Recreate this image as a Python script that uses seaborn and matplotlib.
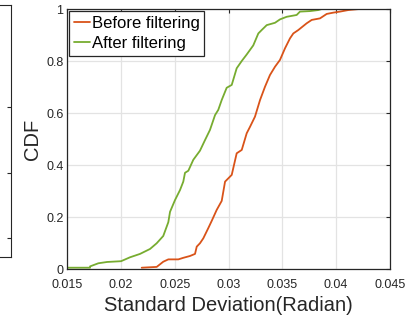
import matplotlib
matplotlib.use("Agg")
import matplotlib.pyplot as plt
import seaborn as sns
import pandas as pd

# ---- data ----
after_x = [0.0150, 0.01714, 0.01714, 0.01791, 0.01872, 0.02002, 0.02085, 0.02178,
           0.02271, 0.02333, 0.02394, 0.02441, 0.02457, 0.02503, 0.0255, 0.0258,
           0.02596, 0.02627, 0.02673, 0.02735, 0.02782, 0.02828, 0.02875, 0.02905,
           0.02937, 0.02983, 0.0303, 0.03076, 0.03123, 0.03169, 0.0323, 0.03277,
           0.03308, 0.03355, 0.03432, 0.03478, 0.0354, 0.03633, 0.03664, 0.03757,
           0.03834, 0.03866]
after_cdf = [0.005, 0.005, 0.010, 0.022, 0.027, 0.030, 0.045, 0.058,
             0.077, 0.099, 0.127, 0.180, 0.220, 0.265, 0.304, 0.336,
             0.370, 0.378, 0.420, 0.455, 0.496, 0.535, 0.592, 0.612,
             0.650, 0.697, 0.708, 0.772, 0.800, 0.825, 0.860, 0.906,
             0.919, 0.938, 0.947, 0.960, 0.970, 0.977, 0.990, 0.992,
             0.996, 1.000]

before_x = [0.02194, 0.02333, 0.02394, 0.02441, 0.02534, 0.0258, 0.02642, 0.02689,
            0.02705, 0.02735, 0.02766, 0.02812, 0.02844, 0.0289, 0.02937, 0.02968,
            0.0303, 0.03076, 0.03123, 0.03169, 0.0320, 0.03246, 0.03293, 0.03339,
            0.03385, 0.03432, 0.03478, 0.03525, 0.03571, 0.03602, 0.03648, 0.03726,
            0.03773, 0.0385, 0.03912, 0.03973, 0.04036, 0.04113, 0.04215]
before_cdf = [0.005, 0.008, 0.028, 0.037, 0.037, 0.043, 0.050, 0.058,
              0.086, 0.099, 0.118, 0.157, 0.185, 0.227, 0.262, 0.336,
              0.362, 0.445, 0.458, 0.522, 0.547, 0.586, 0.650, 0.701,
              0.746, 0.778, 0.804, 0.849, 0.887, 0.906, 0.919, 0.945,
              0.958, 0.964, 0.981, 0.986, 0.990, 0.996, 1.000]

series_names = ["Before filtering", "After filtering"]
x_ticks = [0.015, 0.02, 0.025, 0.03, 0.035, 0.04, 0.045]
x_tick_labels = ["0.015", "0.02", "0.025", "0.03", "0.035", "0.04", "0.045"]
y_ticks = [0, 0.2, 0.4, 0.6, 0.8, 1]
y_tick_labels = ["0", "0.2", "0.4", "0.6", "0.8", "1"]

df = pd.concat([
    pd.DataFrame({"x": before_x, "cdf": before_cdf, "series": series_names[0]}),
    pd.DataFrame({"x": after_x, "cdf": after_cdf, "series": series_names[1]}),
], ignore_index=True)

sns.set_theme(style="whitegrid")
plt.rcParams["font.family"] = ["Liberation Sans", "DejaVu Sans"]

W, H = 412, 323
fig = plt.figure(figsize=(W / 100, H / 100), dpi=100)

dark = "#262626"

# partial neighbouring panel at the left edge
axl = fig.add_axes([-0.5, (H - 257) / H, 0.5 + 11 / W, 252 / H])
axl.set_xlim(0, 1)
axl.set_ylim(0, 1)
axl.grid(False)
axl.set_xticks([])
axl.set_yticks([0.075, 0.333, 0.595])
axl.tick_params(axis="y", left=False, right=True, labelleft=False,
                direction="in", length=3, width=0.8, color=dark)
for s in axl.spines.values():
    s.set_color(dark)
    s.set_linewidth(0.8)

ax = fig.add_axes([67 / W, (H - 269) / H, 323 / W, 260 / H])
sns.lineplot(data=df, x="x", y="cdf", hue="series", estimator=None,
             palette=["#D95319", "#77AC30"], linewidth=1.3, ax=ax)

ax.set_xlim(0.015, 0.045)
ax.set_ylim(0, 1)
ax.set_xticks(x_ticks)
ax.set_xticklabels(x_tick_labels)
ax.set_yticks(y_ticks)
ax.set_yticklabels(y_tick_labels)
ax.grid(True, color="#e3e3e3", linewidth=0.9)
ax.tick_params(axis="both", direction="in", length=3, width=0.8, color=dark,
               labelsize=9, labelcolor=dark, top=True, right=True)
ax.tick_params(axis="x", pad=7)
ax.tick_params(axis="y", pad=2.5)
for s in ax.spines.values():
    s.set_color(dark)
    s.set_linewidth(0.9)

ax.set_xlabel("Standard Deviation(Radian)", fontsize=14.5, color=dark, labelpad=4)
ax.set_ylabel("CDF", fontsize=14.5, color=dark, labelpad=3)

leg = ax.legend(loc="upper left", fontsize=12, frameon=True, fancybox=False,
                framealpha=1, edgecolor=dark, borderaxespad=0.12,
                handlelength=0.95, handletextpad=0.1, labelspacing=0.3,
                borderpad=0.3)
leg.get_frame().set_linewidth(0.9)
for t in leg.get_texts():
    t.set_color("black")

fig.savefig("out.png", dpi=100)
